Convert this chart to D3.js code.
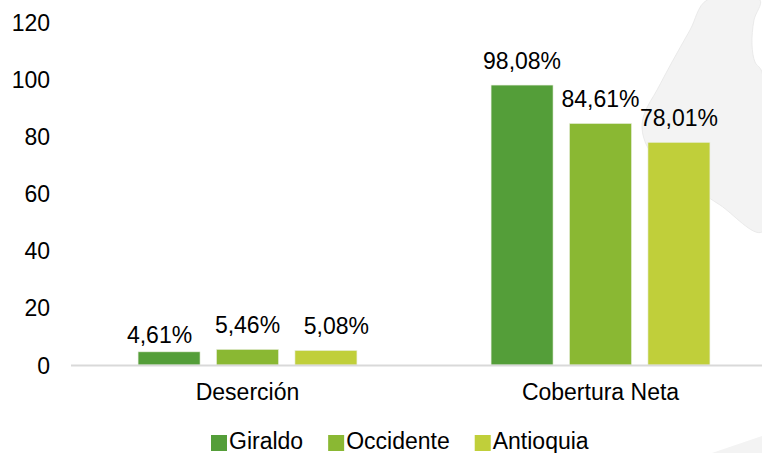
<!DOCTYPE html>
<html>
<head>
<meta charset="utf-8">
<script src="https://cdn.jsdelivr.net/npm/d3@7"></script>
<style>
  body { margin: 0; background: #fff; }
  text { font-family: "Liberation Sans", Arial, sans-serif; fill: #000; }
</style>
</head>
<body>
<svg id="chart"></svg>
<script>
// data
var categories = ["Deserción", "Cobertura Neta"];
var series = ["Giraldo", "Occidente", "Antioquia"];
var giraldo = [4.61, 98.08];
var occidente = [5.46, 84.61];
var antioquia = [5.08, 78.01];
var yTicks = [0, 20, 40, 60, 80, 100, 120];

var colors = ["#549e39", "#8ab833", "#c0cf3a"];
var values = [giraldo, occidente, antioquia];

var width = 762, height = 453;
var svg = d3.select("#chart")
    .attr("width", width)
    .attr("height", height);

// faint map shape in the background (decoration only)
var shape = [[707,0],[690,30],[672,62],[657,90],[645,112],[642,128],[648,148],[665,165],[690,185],[720,205],[762,232],[762,72],[755,62],[752,45],[754,20],[760,0]];
svg.append("path")
    .attr("d", d3.line().curve(d3.curveCatmullRomClosed)(shape))
    .attr("fill", "#f3f3f3")
    .attr("stroke", "#e6e6e6")
    .attr("stroke-width", 0.8);
svg.append("path")
    .attr("d", "M712,453 L762,436 L762,453 Z")
    .attr("fill", "#f3f3f3");

var x0 = d3.scaleBand()
    .domain(categories)
    .range([71, 777])
    .paddingInner(0.38)
    .paddingOuter(0.19);

var x1 = d3.scaleBand()
    .domain(series)
    .range([0, x0.bandwidth()])
    .paddingInner(0.21);

var y = d3.scaleLinear()
    .domain([0, 120])
    .range([365, 22.5]);

// y axis labels only
var yAxis = svg.append("g")
    .attr("transform", "translate(50,0)")
    .call(d3.axisLeft(y).tickValues(yTicks).tickSize(0).tickPadding(0).tickFormat(d3.format("d")));
yAxis.select(".domain").remove();
yAxis.selectAll("text")
    .style("font-size", "23px")
    .style("font-family", "Liberation Sans, Arial, sans-serif")
    .attr("fill", "#000")
    .attr("dy", "0.35em");

// bars
var rows = [];
series.forEach(function(s, i) {
  categories.forEach(function(c, j) {
    rows.push({series: s, cat: c, value: values[i][j], color: colors[i], si: i, ci: j});
  });
});

svg.selectAll(".bar")
    .data(rows)
    .enter().append("rect")
    .attr("class", "bar")
    .attr("x", function(d) { return x0(d.cat) + x1(d.series); })
    .attr("y", function(d) { return y(d.value); })
    .attr("width", x1.bandwidth())
    .attr("height", function(d) { return y(0) - y(d.value); })
    .attr("fill", function(d) { return d.color; })
    .attr("stroke", "#e8eedd")
    .attr("stroke-width", 0.6);

// baseline
svg.append("line")
    .attr("x1", 71).attr("x2", 777)
    .attr("y1", y(0) + 0.5).attr("y2", y(0) + 0.5)
    .attr("stroke", "#d9d9d9")
    .attr("stroke-width", 2);

// value labels (the small ones were nudged apart in the original)
var fmt = function(v) { return d3.format(".2f")(v).replace(".", ",") + "%"; };
function nudge(d) {
  if (d.ci === 0 && d.si === 0) return [-9.5, 8];
  if (d.ci === 0 && d.si === 2) return [10.5, 0];
  return [0, 0];
}
svg.selectAll(".label")
    .data(rows)
    .enter().append("text")
    .attr("class", "label")
    .attr("x", function(d) { return x0(d.cat) + x1(d.series) + x1.bandwidth() / 2 + nudge(d)[0]; })
    .attr("y", function(d) { return y(d.value) - 16.5 + nudge(d)[1]; })
    .attr("text-anchor", "middle")
    .style("font-size", "23px")
    .text(function(d) { return fmt(d.value); });

// category labels
svg.selectAll(".cat")
    .data(categories)
    .enter().append("text")
    .attr("class", "cat")
    .attr("x", function(d) { return x0(d) + x0.bandwidth() / 2; })
    .attr("y", 400)
    .attr("text-anchor", "middle")
    .style("font-size", "23px")
    .text(function(d) { return d; });

// legend
var legend = svg.append("g");
var lx = 211;
series.forEach(function(s, i) {
  legend.append("rect")
      .attr("x", lx).attr("y", 435)
      .attr("width", 16).attr("height", 16)
      .attr("fill", colors[i]);
  var t = legend.append("text")
      .attr("x", lx + 18)
      .attr("y", 449)
      .style("font-size", "23px")
      .text(s);
  lx += 18 + t.node().getComputedTextLength() + 25;
});
</script>
</body>
</html>
